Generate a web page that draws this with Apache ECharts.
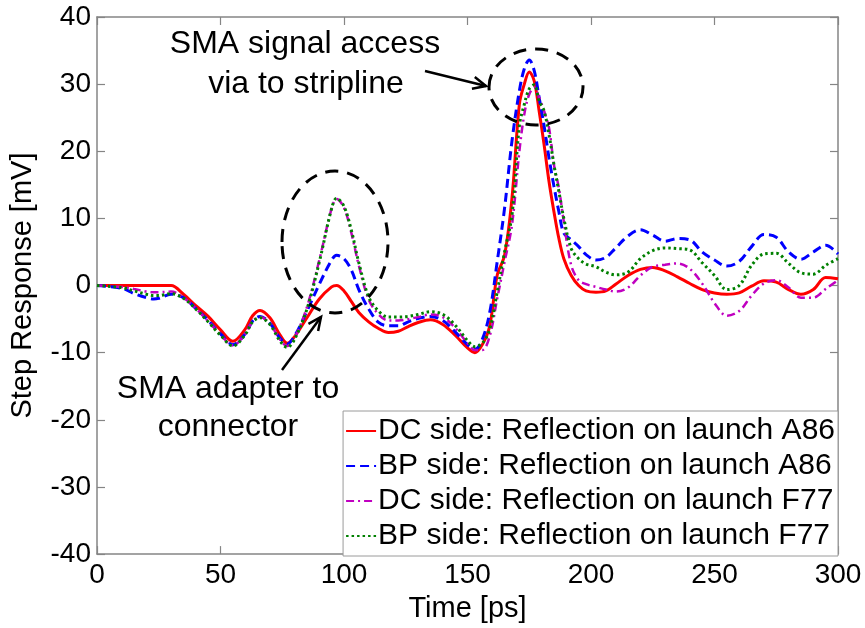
<!DOCTYPE html>
<html>
<head>
<meta charset="utf-8">
<script src="https://cdn.jsdelivr.net/npm/echarts@6/dist/echarts.min.js"></script>
<style>
html,body{margin:0;padding:0;background:#fff;}
#chart{width:865px;height:628px;}
</style>
</head>
<body>
<div id="chart"></div>
<script>
// Time axis (ps)
const time = [0,10,15,20,23,25,30,35,40,45,
  50,55,60,63,66,70,74,77,80,85,
  90,95,97,100,103,106,110,114,118,122,
  126,130,135,140,145,150,153,156,159,162,
  165,168,171,173,175,177,179,181,183,185,
  187,189,192,195,198,202,206,210,215,220,
  225,230,235,240,245,250,255,260,265,270,
  275,280,285,290,295,300];

// DC side: Reflection on launch A86 (mV)
const dcA86 = [0,0,0,0,0,0,0,-1.3,-3.0,-4.6,
  -6.6,-8.3,-6.5,-4.5,-3.7,-4.8,-7.3,-8.6,-7.6,-4.8,
  -2.0,-0.2,0,-0.8,-2.4,-4.0,-5.4,-6.4,-7.0,-6.8,
  -6.1,-5.5,-5.1,-5.8,-7.4,-9.3,-10.0,-8.8,-6.0,1.5,
  4.5,13.0,27.0,30.0,31.8,30.5,26.0,21.0,15.5,11.0,
  7.0,4.0,1.5,0,-0.8,-1.0,-0.8,0.2,1.5,2.4,
  2.7,2.2,1.3,0.3,-0.6,-1.1,-1.3,-1.1,-0.1,0.7,
  0.5,-0.6,-1.3,-0.6,1.2,1.0];

// BP side: Reflection on launch A86 (mV)
const bpA86 = [0,-0.4,-1.2,-1.8,-2.0,-1.9,-1.3,-1.8,-3.4,-5.2,
  -7.2,-8.8,-7.2,-5.3,-4.6,-5.6,-7.8,-8.7,-7.5,-3.8,
  0.2,3.8,4.5,4.0,2.3,-0.6,-3.5,-5.5,-6.0,-6.0,
  -5.4,-4.9,-4.6,-5.2,-6.9,-8.8,-9.5,-8.0,-4.0,3.5,
  11.5,21.5,29.0,32.3,33.6,32.0,28.0,23.8,19.0,14.8,
  11.0,7.8,6.8,5.8,4.6,3.8,4.2,5.6,7.4,8.3,
  7.5,6.6,7.0,6.8,5.0,3.8,2.9,3.6,5.8,7.6,
  7.2,5.0,3.9,5.0,6.0,4.7];

// DC side: Reflection on launch F77 (mV)
const dcF77 = [0,-0.2,-0.5,-0.9,-1.0,-1.0,-0.9,-1.8,-3.4,-5.3,
  -7.3,-8.9,-7.2,-5.3,-4.7,-5.7,-8.0,-9.0,-7.8,-3.2,
  3.8,11.5,12.9,11.6,7.8,3.0,-2.1,-4.3,-5.2,-5.2,
  -5.0,-4.7,-4.3,-4.7,-6.3,-8.6,-9.6,-9.6,-7.5,-2.0,
  3.5,9.0,20.0,25.5,28.5,29.5,28.0,26.0,23.5,18.0,
  14.5,9.5,3.0,0.8,0.2,-0.2,-0.6,-0.9,-0.3,1.5,
  2.8,3.1,3.3,2.5,0.3,-2.6,-4.5,-3.8,-1.5,0.3,
  0.8,-0.3,-1.8,-1.8,-0.5,0.8];

// BP side: Reflection on launch F77 (mV)
const bpF77 = [0,-0.3,-0.8,-1.3,-1.5,-1.5,-1.2,-1.9,-3.5,-5.4,
  -7.4,-9.0,-7.3,-5.4,-4.8,-5.8,-8.2,-9.2,-8.0,-3.5,
  3.5,11.5,13.0,11.8,8.2,3.4,-1.7,-3.8,-4.7,-4.7,
  -4.6,-4.3,-3.9,-4.3,-5.9,-8.2,-9.1,-8.6,-6.5,-1.0,
  5.0,10.5,23.8,27.0,29.3,29.9,27.5,26.0,22.5,18.0,
  14.0,10.0,5.5,4.0,3.2,2.8,2.0,1.6,2.0,4.0,
  5.2,5.6,5.5,5.3,3.4,1.5,-0.6,0.0,3.0,4.7,
  4.8,3.3,1.9,1.7,3.0,4.0];

const seriesNames = [
  'DC side: Reflection on launch A86',
  'BP side: Reflection on launch A86',
  'DC side: Reflection on launch F77',
  'BP side: Reflection on launch F77'
];
const xTicks = {min: 0, max: 300, step: 50};
const yTicks = {min: -40, max: 40, step: 10};

const FONT = '"Liberation Sans", Arial, Helvetica, sans-serif';
const AXIS_COLOR = '#858585';

function pairs(arr){ return time.map((t,i)=>[t, arr[i]]); }

const chart = echarts.init(document.getElementById('chart'), null, {renderer:'canvas'});

function mkSeries(name, arr, color, type, width){
  return {
    name: name, type: 'line', data: pairs(arr),
    xAxisIndex: 0, yAxisIndex: 0,
    symbol: 'none', smooth: 0.35,
    lineStyle: {color: color, width: width, type: type},
    itemStyle: {color: color},
    emphasis: {disabled: true},
    animation: false
  };
}

const axisCommon = {
  type: 'value',
  axisLine: {show: true, onZero: false, lineStyle: {color: AXIS_COLOR, width: 1.5}},
  axisTick: {show: true, inside: true, length: 8, lineStyle: {color: AXIS_COLOR, width: 1.2}},
  splitLine: {show: false}
};

const option = {
  backgroundColor: '#ffffff',
  animation: false,
  grid: {left: 93, right: 27, top: 17, bottom: 71, containLabel: false},
  xAxis: [
    Object.assign({}, axisCommon, {
      position: 'bottom', min: xTicks.min, max: xTicks.max, interval: xTicks.step,
      name: 'Time [ps]', nameLocation: 'middle', nameGap: 35,
      nameTextStyle: {fontSize: 29, fontFamily: FONT, color: '#000'},
      axisLabel: {fontSize: 28, fontFamily: FONT, color: '#000', margin: 7}
    }),
    Object.assign({}, axisCommon, {
      position: 'top', min: xTicks.min, max: xTicks.max, interval: xTicks.step,
      axisLabel: {show: false}
    })
  ],
  yAxis: [
    Object.assign({}, axisCommon, {
      position: 'left', min: yTicks.min, max: yTicks.max, interval: yTicks.step,
      name: 'Step Response [mV]', nameLocation: 'middle', nameGap: 60,
      nameTextStyle: {fontSize: 29, fontFamily: FONT, color: '#000'},
      axisLabel: {fontSize: 28, fontFamily: FONT, color: '#000', margin: 6}
    }),
    Object.assign({}, axisCommon, {
      position: 'right', min: yTicks.min, max: yTicks.max, interval: yTicks.step,
      axisLabel: {show: false}
    })
  ],
  legend: {
    show: true, orient: 'vertical', right: 27, bottom: 72,
    data: seriesNames,
    backgroundColor: '#ffffff', borderColor: '#9a9a9a', borderWidth: 1,
    padding: [5, 3, 5, 2], itemGap: 5, itemWidth: 30, itemHeight: 2,
    itemStyle: {opacity: 0},
    textStyle: {fontSize: 30, fontFamily: FONT, color: '#000', padding: [0,0,0,-3]},
    selectedMode: false
  },
  series: [
    mkSeries(seriesNames[0], dcA86, '#ff0000', 'solid', 3),
    mkSeries(seriesNames[1], bpA86, '#0000ff', [9, 5], 3),
    mkSeries(seriesNames[2], dcF77, '#c000c0', [8, 4, 2, 4], 2.5),
    mkSeries(seriesNames[3], bpF77, '#008000', [2.5, 3], 3)
  ]
};
chart.setOption(option);

// Annotations (pixel-space decorations)
function arrow(x1, y1, x2, y2){
  const dx = x2 - x1, dy = y2 - y1, L = Math.hypot(dx, dy);
  const ux = dx / L, uy = dy / L, px = -uy, py = ux;
  const hl = 13, hw = 6;
  const bx = x2 - ux * hl, by = y2 - uy * hl;
  return [
    {type: 'line', shape: {x1: x1, y1: y1, x2: x2, y2: y2}, style: {stroke: '#000', lineWidth: 2.5}, z: 100},
    {type: 'polyline', shape: {points: [[bx + px * hw, by + py * hw], [x2, y2], [bx - px * hw, by - py * hw]]},
     style: {stroke: '#000', lineWidth: 2.5, fill: 'none'}, z: 100}
  ];
}
function label(text, x, y){
  return {type: 'text', x: x, y: y, z: 100,
    style: {text: text, fontSize: 32, fontFamily: FONT, fill: '#000', align: 'center', verticalAlign: 'middle'}};
}
const dashStyle = {stroke: '#000', lineWidth: 3, lineDash: [13, 9], fill: 'none'};
const graphics = [
  {type: 'ellipse', shape: {cx: 335, cy: 242, rx: 53, ry: 71}, style: dashStyle, z: 100},
  {type: 'ellipse', shape: {cx: 536, cy: 87, rx: 47, ry: 38}, style: dashStyle, z: 100},
  label('SMA signal access', 305, 44),
  label('via to stripline', 306, 84),
  label('SMA adapter to', 228, 389),
  label('connector', 228, 427)
].concat(arrow(425, 71, 486, 86)).concat(arrow(282, 370, 321, 317));
chart.setOption({graphic: graphics});
</script>
</body>
</html>
